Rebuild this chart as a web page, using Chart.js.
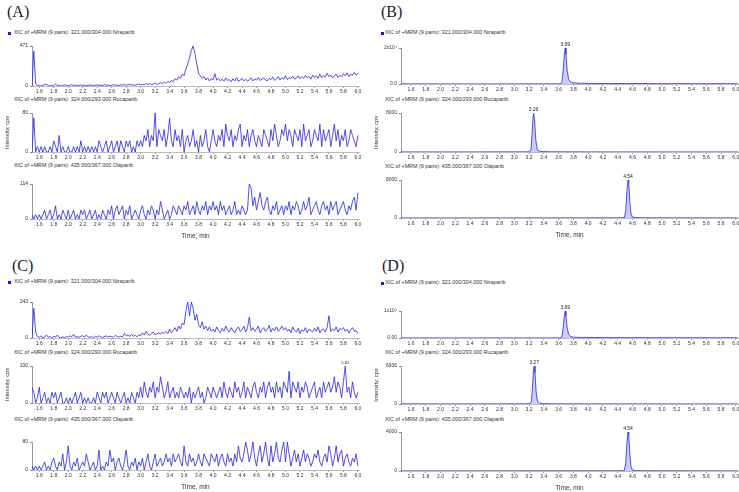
<!DOCTYPE html>
<html>
<head>
<meta charset="utf-8">
<script src="https://cdn.jsdelivr.net/npm/chart.js@4.4.1/dist/chart.umd.min.js"></script>
<style>
  body { margin: 0; width: 739px; height: 492px; position: relative; overflow: hidden; background: #fff;
         font-family: "Liberation Sans", Arial, sans-serif; }
  canvas { position: absolute; }
  .panel { position: absolute; font-family: "Liberation Serif", "DejaVu Serif", serif; font-size: 16px; line-height: 1; color: #222; }
  .xic { position: absolute; font-size: 5.4px; line-height: 1; color: #333; white-space: nowrap; }
  .mark { position: absolute; width: 3px; height: 3px; background: #1c1cd8; }
</style>
</head>
<body>

<div class="panel" style="left:7px;top:4px">(A)</div>
<div class="panel" style="left:381px;top:4px">(B)</div>
<div class="panel" style="left:12px;top:258px">(C)</div>
<div class="panel" style="left:382px;top:258px">(D)</div>

<div class="mark" style="left:8px;top:32px"></div>
<div class="xic" style="left:14px;top:30px">XIC of +MRM (9 pairs): 321.000/304.000 Niraparib</div>
<div class="xic" style="left:14px;top:97px">XIC of +MRM (9 pairs): 324.000/293.000 Rucaparib</div>
<div class="xic" style="left:14px;top:163px">XIC of +MRM (9 pairs): 435.000/367.000 Olaparib</div>

<div class="mark" style="left:381px;top:32px"></div>
<div class="xic" style="left:385px;top:30px">XIC of +MRM (9 pairs): 321.000/304.000 Niraparib</div>
<div class="xic" style="left:385px;top:97px">XIC of +MRM (9 pairs): 324.000/293.000 Rucaparib</div>
<div class="xic" style="left:385px;top:164px">XIC of +MRM (9 pairs): 435.000/367.000 Olaparib</div>

<div class="mark" style="left:8px;top:281px"></div>
<div class="xic" style="left:14px;top:279px">XIC of +MRM (9 pairs): 321.000/304.000 Niraparib</div>
<div class="xic" style="left:14px;top:350px">XIC of +MRM (9 pairs): 324.000/293.000 Rucaparib</div>
<div class="xic" style="left:14px;top:417px">XIC of +MRM (9 pairs): 435.000/367.000 Olaparib</div>

<div class="mark" style="left:381px;top:282px"></div>
<div class="xic" style="left:385px;top:280px">XIC of +MRM (9 pairs): 321.000/304.000 Niraparib</div>
<div class="xic" style="left:385px;top:350px">XIC of +MRM (9 pairs): 324.000/293.000 Rucaparib</div>
<div class="xic" style="left:385px;top:417px">XIC of +MRM (9 pairs): 435.000/367.000 Olaparib</div>

<script>
// x axis tick labels (min)
const xTickLabels = ['1.6','1.8','2.0','2.2','2.4','2.6','2.8','3.0','3.2','3.4','3.6','3.8',
                     '4.0','4.2','4.4','4.6','4.8','5.0','5.2','5.4','5.6','5.8','6.0'];

// blank traces (A, C) are sampled every 0.025 min from 1.5 min
const scanStart = 1.5;
const scanStep = 0.025;

// (A) Niraparib
const aNiraparib = [
  0, 410, 30, 5, 10, 0, 8, 15, 20, 5, 0, 6, 3, 25, 4, 10, 0, 5, 12, 8,
  3, 10, 15, 6, 12, 4, 8, 14, 5, 10, 3, 8, 12, 6, 3, 9, 14, 5, 10, 6,
  15, 8, 12, 4, 10, 18, 7, 12, 5, 15, 10, 20, 8, 14, 22, 10, 16, 8, 18, 25,
  12, 20, 15, 28, 18, 30, 14, 22, 35, 20, 28, 40, 25, 45, 30, 55, 40, 65, 50, 85,
  70, 110, 90, 140, 120, 200, 260, 330, 420, 471, 380, 260, 150, 120, 90, 110, 70, 95, 60, 85,
  75, 145, 70, 90, 60, 80, 55, 95, 65, 75, 50, 85, 60, 100, 55, 70, 90, 60, 80, 55,
  75, 95, 60, 85, 70, 100, 65, 80, 95, 70, 60, 90, 75, 105, 65, 85, 110, 70, 95, 80,
  120, 75, 100, 85, 115, 80, 95, 120, 85, 110, 90, 125, 95, 115, 80, 130, 100, 120, 90, 140,
  95, 125, 105, 150, 110, 130, 95, 120, 140, 100, 125, 110, 145, 120, 155, 110, 140, 125, 160, 130,
  150
];
// (A) Rucaparib
const aRucaparib = [
  0, 70, 0, 11, 0, 11, 0, 11, 0, 0, 11, 0, 23, 11, 0, 34, 0, 11, 0, 0,
  11, 0, 0, 11, 0, 11, 0, 23, 0, 11, 0, 11, 0, 11, 0, 11, 0, 23, 11, 0,
  11, 23, 0, 11, 23, 0, 11, 23, 0, 23, 11, 0, 23, 11, 23, 0, 11, 0, 23, 11,
  23, 11, 34, 23, 46, 11, 34, 23, 80, 11, 46, 34, 23, 46, 11, 34, 69, 23, 11, 46,
  23, 34, 11, 46, 0, 23, 34, 11, 23, 46, 11, 23, 0, 34, 11, 23, 46, 11, 0, 23,
  46, 23, 11, 34, 23, 46, 11, 57, 34, 23, 46, 11, 34, 23, 46, 57, 11, 34, 23, 46,
  11, 34, 46, 23, 11, 34, 23, 11, 46, 34, 23, 11, 46, 23, 57, 34, 11, 23, 46, 34,
  57, 23, 46, 34, 11, 46, 34, 23, 46, 11, 57, 23, 34, 46, 11, 23, 46, 34, 23, 57,
  11, 46, 23, 34, 46, 11, 34, 57, 23, 46, 11, 34, 23, 46, 11, 23, 46, 34, 23, 11,
  34
];
// (A) Olaparib
const aOlaparib = [
  14, 0, 14, 0, 14, 0, 14, 29, 0, 14, 29, 0, 14, 43, 0, 14, 0, 29, 14, 0,
  29, 0, 14, 29, 0, 14, 0, 29, 14, 29, 0, 14, 29, 0, 14, 29, 0, 14, 0, 29,
  14, 0, 29, 14, 43, 0, 29, 43, 14, 29, 43, 0, 29, 14, 43, 0, 14, 29, 14, 0,
  29, 43, 14, 0, 29, 14, 43, 29, 0, 29, 14, 57, 29, 0, 14, 29, 0, 14, 43, 29,
  14, 43, 29, 14, 43, 29, 57, 14, 29, 43, 14, 57, 29, 14, 43, 29, 57, 14, 43, 29,
  57, 29, 43, 14, 57, 29, 43, 14, 29, 43, 14, 29, 57, 14, 29, 14, 43, 29, 14, 29,
  114, 100, 43, 71, 29, 57, 86, 43, 29, 57, 71, 29, 14, 43, 29, 57, 14, 29, 43, 14,
  43, 29, 57, 14, 43, 29, 57, 43, 14, 29, 57, 29, 43, 71, 14, 29, 43, 57, 29, 14,
  43, 57, 29, 43, 14, 57, 29, 43, 57, 14, 29, 43, 57, 29, 14, 43, 29, 57, 71, 29,
  86
];

// (C) Niraparib
const cNiraparib = [
  0, 200, 40, 10, 5, 15, 0, 8, 20, 5, 10, 0, 12, 6, 20, 4, 0, 8, 3, 10,
  5, 15, 8, 25, 5, 10, 4, 12, 15, 6, 20, 8, 5, 10, 3, 12, 6, 15, 8, 4,
  10, 14, 6, 12, 8, 5, 18, 10, 6, 12, 8, 30, 15, 20, 10, 25, 12, 18, 8, 22,
  15, 35, 20, 45, 25, 18, 30, 40, 22, 28, 35, 25, 40, 30, 45, 28, 60, 35, 50, 70,
  45, 80, 60, 100, 90, 180, 243, 150, 243, 200, 120, 160, 90, 70, 110, 60, 80, 50, 75, 45,
  60, 40, 75, 50, 35, 65, 45, 80, 55, 40, 70, 50, 35, 60, 75, 45, 55, 80, 40, 65,
  140, 50, 70, 45, 60, 80, 35, 55, 70, 45, 60, 85, 40, 65, 50, 75, 45, 60, 80, 55,
  70, 45, 60, 35, 75, 50, 40, 65, 30, 55, 45, 70, 35, 60, 50, 40, 65, 45, 75, 35,
  55, 60, 40, 70, 150, 45, 60, 50, 75, 40, 65, 55, 70, 45, 60, 35, 55, 70, 45, 50,
  30
];
// (C) Rucaparib
const cRucaparib = [
  43, 29, 0, 14, 43, 0, 14, 29, 0, 14, 0, 29, 14, 29, 0, 14, 29, 0, 0, 14,
  0, 14, 0, 14, 29, 0, 14, 29, 0, 14, 0, 14, 0, 0, 14, 0, 29, 14, 0, 29,
  14, 29, 0, 14, 29, 14, 0, 29, 14, 0, 14, 29, 0, 14, 0, 29, 14, 0, 29, 14,
  43, 14, 57, 29, 14, 43, 29, 57, 14, 43, 29, 71, 43, 14, 29, 57, 14, 29, 43, 14,
  29, 14, 43, 29, 14, 29, 14, 43, 0, 29, 14, 29, 43, 14, 29, 0, 14, 43, 29, 14,
  43, 29, 14, 29, 43, 14, 57, 29, 14, 43, 29, 14, 57, 29, 43, 14, 29, 57, 14, 43,
  29, 14, 43, 57, 29, 14, 43, 29, 57, 14, 43, 57, 29, 43, 14, 57, 29, 43, 14, 57,
  43, 29, 86, 14, 57, 43, 29, 57, 14, 43, 29, 57, 43, 14, 29, 43, 57, 14, 29, 43,
  14, 57, 29, 43, 57, 29, 43, 71, 29, 57, 43, 14, 57, 100, 29, 43, 14, 57, 29, 14,
  29
];
// (C) Olaparib
const cOlaparib = [
  11, 0, 11, 0, 11, 0, 11, 23, 0, 11, 0, 23, 34, 11, 0, 23, 11, 46, 0, 23,
  69, 11, 0, 23, 11, 34, 0, 11, 23, 11, 46, 23, 0, 11, 23, 0, 11, 57, 0, 11,
  0, 23, 11, 57, 23, 34, 0, 23, 34, 11, 0, 23, 57, 11, 0, 23, 11, 34, 0, 23,
  11, 34, 0, 23, 46, 11, 0, 23, 46, 11, 23, 34, 11, 23, 46, 23, 34, 11, 46, 23,
  34, 46, 23, 11, 69, 23, 11, 46, 23, 34, 11, 23, 46, 23, 11, 46, 34, 23, 11, 46,
  34, 23, 46, 11, 34, 46, 23, 11, 46, 23, 34, 11, 46, 23, 69, 34, 23, 46, 80, 57,
  23, 46, 80, 34, 11, 46, 69, 23, 46, 80, 34, 11, 69, 23, 46, 80, 34, 23, 57, 80,
  23, 80, 46, 11, 34, 57, 23, 46, 11, 34, 57, 23, 46, 34, 11, 23, 46, 34, 57, 23,
  11, 34, 46, 23, 69, 46, 11, 34, 69, 23, 46, 57, 11, 34, 46, 23, 11, 34, 23, 46,
  11
];

// (B) spiked samples
const bNiraTimes = [1.47, 1.55, 1.6, 2.0, 2.5, 3.0, 3.5, 3.62, 3.645, 3.665, 3.68, 3.69, 3.70, 3.715, 3.735, 3.76, 3.8, 3.9, 4.0, 4.2, 4.5, 5.0, 5.5, 6.03];
const bNiraValues = [150, 80, 60, 50, 40, 60, 80, 120, 900, 9000, 17500, 20000, 16500, 8000, 2800, 1200, 600, 400, 350, 300, 250, 200, 180, 150];
const bRucaTimes = [1.465, 2.0, 2.5, 3.0, 3.2, 3.225, 3.24, 3.255, 3.26, 3.275, 3.29, 3.31, 3.34, 3.4, 3.5, 4.0, 5.0, 6.03];
const bRucaValues = [20, 15, 20, 25, 40, 400, 3500, 7400, 8000, 6600, 2600, 500, 150, 80, 40, 20, 15, 10];
const bOlaTimes = [1.465, 2.5, 3.5, 4.4, 4.49, 4.51, 4.525, 4.54, 4.55, 4.565, 4.58, 4.6, 4.65, 5.0, 6.03];
const bOlaValues = [15, 20, 25, 30, 60, 1500, 5500, 8000, 7400, 3500, 900, 200, 60, 30, 20];

// (D) spiked samples
const dNiraTimes = [1.47, 1.55, 1.6, 2.0, 2.5, 3.0, 3.5, 3.62, 3.645, 3.665, 3.68, 3.69, 3.70, 3.715, 3.735, 3.76, 3.8, 3.9, 4.0, 4.2, 4.5, 5.0, 5.5, 6.03];
const dNiraValues = [60, 40, 30, 25, 20, 30, 40, 60, 450, 4500, 8700, 10000, 8200, 4000, 1400, 600, 300, 200, 180, 150, 120, 100, 90, 80];
const dRucaTimes = [1.465, 2.0, 2.5, 3.0, 3.2, 3.23, 3.245, 3.26, 3.27, 3.28, 3.295, 3.315, 3.345, 3.4, 3.5, 4.0, 5.0, 6.03];
const dRucaValues = [30, 15, 20, 25, 40, 300, 2800, 6300, 6936, 5800, 2200, 450, 130, 70, 35, 20, 15, 10];
const dOlaTimes = [1.465, 2.5, 3.5, 4.4, 4.49, 4.51, 4.525, 4.54, 4.55, 4.565, 4.58, 4.6, 4.65, 5.0, 6.03];
const dOlaValues = [10, 12, 15, 20, 40, 800, 2800, 4000, 3700, 1800, 450, 100, 30, 15, 10];

// y axis extents and their labels
const yMaxValues = [471, 80, 114, 20000, 8000, 8000, 243, 100, 80, 10000, 6936, 4000];
const yTopLabels = ['471', '80', '114', '2x10\u2074', '8000', '8000', '243', '100', '80', '1x10\u2074', '6936', '4000'];
const yZeroLabels = ['0', '0', '0', '0.0', '0', '0', '0', '0', '0', '0.00', '0', '0'];
// retention time labels printed over the apex
const apexLabels = ['', '', '', '3.69', '3.26', '4.54', '', '5.82', '', '3.69', '3.27', '4.54'];

Chart.defaults.font.family = '"Liberation Sans", Arial, sans-serif';
Chart.defaults.font.size = 5;
Chart.defaults.color = '#333';

const scanTimes = aNiraparib.map((v, i) => +(scanStart + i * scanStep).toFixed(3));
const onScan = vals => vals.map((v, i) => ({ x: scanTimes[i], y: v }));
const onTimes = (ts, vals) => vals.map((v, i) => ({ x: ts[i], y: v }));

const traces = [
  onScan(aNiraparib), onScan(aRucaparib), onScan(aOlaparib),
  onTimes(bNiraTimes, bNiraValues), onTimes(bRucaTimes, bRucaValues), onTimes(bOlaTimes, bOlaValues),
  onScan(cNiraparib), onScan(cRucaparib), onScan(cOlaparib),
  onTimes(dNiraTimes, dNiraValues), onTimes(dRucaTimes, dRucaValues), onTimes(dOlaTimes, dOlaValues)
];

// plot area of every trace on the page: left, top, right, bottom
const boxes = [
  [32, 46, 359, 86], [32, 113, 359, 152], [32, 184, 359, 219],
  [401, 48, 738, 84], [401, 113, 738, 152], [401, 180, 738, 218],
  [32, 302, 359, 338], [32, 366, 359, 403], [32, 442, 359, 470],
  [401, 311, 738, 338], [401, 366, 738, 404], [401, 432, 738, 471]
];

const apexLabel = {
  id: 'apexLabel',
  afterDatasetsDraw(chart, args, opts) {
    if (!opts.text) return;
    const pts = chart.data.datasets[0].data;
    let k = 0;
    pts.forEach((p, i) => { if (p.y > pts[k].y) k = i; });
    const el = chart.getDatasetMeta(0).data[k];
    const ctx = chart.ctx;
    ctx.save();
    ctx.font = opts.size + 'px "Liberation Sans", Arial, sans-serif';
    ctx.fillStyle = '#222';
    ctx.textAlign = 'center';
    ctx.textBaseline = 'bottom';
    ctx.fillText(opts.text, el.x, el.y - 1);
    ctx.restore();
  }
};

traces.forEach((data, n) => {
  const [L, T, R, B] = boxes[n];
  const blank = n < 3 || (n >= 6 && n < 9);
  const middle = n % 3 === 1, bottom = n % 3 === 2;
  const padTop = 9, padRight = 6, yw = 30, xh = bottom ? 21 : 10;
  const w = R - L + yw + padRight, h = B - T + padTop + xh;

  const cv = document.createElement('canvas');
  cv.width = w; cv.height = h;
  cv.style.left = (L - yw) + 'px';
  cv.style.top = (T - padTop) + 'px';
  cv.style.width = w + 'px';
  cv.style.height = h + 'px';
  document.body.appendChild(cv);

  new Chart(cv, {
    type: 'line',
    data: {
      datasets: [{
        data: data,
        borderColor: blank ? '#2323ee' : '#3c3ce6',
        borderWidth: blank ? 0.8 : 0.9,
        backgroundColor: 'rgba(110,110,235,0.35)',
        fill: blank ? false : 'origin',
        pointRadius: 0,
        tension: 0
      }]
    },
    plugins: [apexLabel],
    options: {
      responsive: false,
      animation: false,
      events: [],
      layout: { padding: { top: padTop, right: padRight, left: 0, bottom: 0 } },
      plugins: {
        legend: { display: false },
        tooltip: { enabled: false },
        apexLabel: { text: apexLabels[n], size: n === 7 ? 4 : 5 }
      },
      scales: {
        x: {
          type: 'linear',
          min: blank ? 1.5 : 1.465,
          max: blank ? 6.015 : 6.03,
          afterBuildTicks: s => { s.ticks = xTickLabels.map(t => ({ value: +t })); },
          afterFit: s => { s.height = xh; },
          ticks: { autoSkip: false, maxRotation: 0, padding: 1, callback: (v, i) => xTickLabels[i] },
          grid: { drawOnChartArea: false, tickLength: 2, color: '#999' },
          border: { color: '#bbb' },
          title: { display: bottom, text: 'Time, min', font: { size: 6.5 }, padding: 0, color: '#333' }
        },
        y: {
          min: 0,
          max: yMaxValues[n],
          afterBuildTicks: s => { s.ticks = [{ value: 0 }, { value: yMaxValues[n] }]; },
          afterFit: s => { s.width = yw; },
          ticks: { padding: 2, callback: (v, i) => i ? yTopLabels[n] : yZeroLabels[n] },
          grid: { drawOnChartArea: false, tickLength: 2, color: '#888' },
          border: { color: '#999' },
          title: { display: middle, text: 'Intensity, cps', font: { size: 5.8 }, padding: { top: 2, bottom: 0 }, color: '#333' }
        }
      }
    }
  });
});
</script>
</body>
</html>
